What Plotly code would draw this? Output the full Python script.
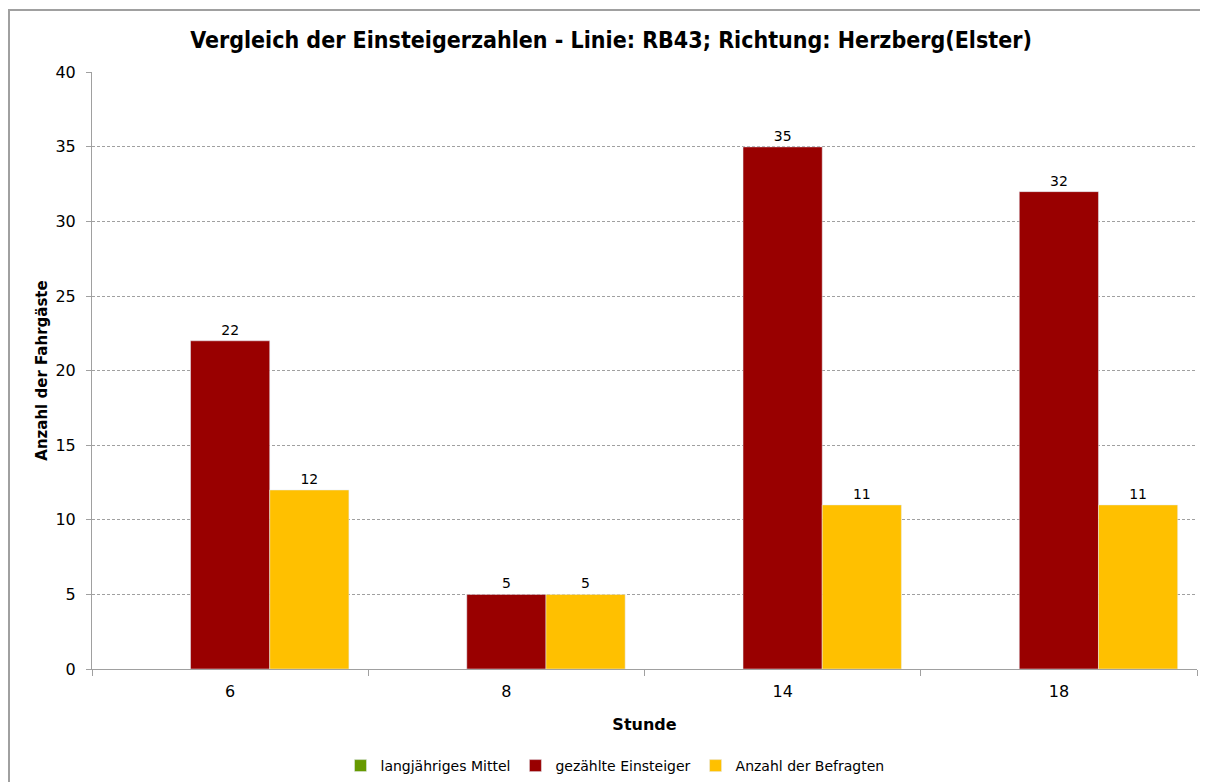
import plotly.graph_objects as go

categories = ["6", "8", "14", "18"]
mittel = [None, None, None, None]
gezaehlt = [22, 5, 35, 32]
befragt = [12, 5, 11, 11]

FONT = "DejaVu Sans"
# page body has an 8px margin, so the figure is placed at (8, 8)
W, H = 1200, 774
L, R, T, B = 84, 11, 64, 113
PW, PH = W - L - R, H - T - B

fig = go.Figure()
fig.add_trace(go.Bar(name="langjähriges Mittel", x=categories, y=mittel,
                     marker_color="#669900"))
fig.add_trace(go.Bar(name="gezählte Einsteiger", x=categories, y=gezaehlt,
                     marker_color="#990000", text=gezaehlt, textposition="outside",
                     textfont=dict(size=14, color="#000"), cliponaxis=False,
                     constraintext="none"))
fig.add_trace(go.Bar(name="Anzahl der Befragten", x=categories, y=befragt,
                     marker_color="#FFC000", text=befragt, textposition="outside",
                     textfont=dict(size=14, color="#000"), cliponaxis=False,
                     constraintext="none"))

fig.update_layout(
    width=W, height=H,
    barmode="group", bargap=0.14, bargroupgap=0,
    plot_bgcolor="white", paper_bgcolor="white",
    font=dict(family=FONT, size=13, color="#000"),
    margin=dict(l=L, r=R, t=T, b=B, autoexpand=False),
    title=dict(text="<b>Vergleich der Einsteigerzahlen - Linie: RB43; Richtung: Herzberg(Elster)</b>",
               x=603 / W, xanchor="center", xref="container", y=1 - 32 / H, yanchor="middle",
               font=dict(family="DejaVu Sans Condensed, " + FONT, size=23)),
    legend=dict(orientation="h", x=(607 - L) / PW, xanchor="center",
                y=-(758 - (T + PH)) / PH, yanchor="middle",
                font=dict(size=14), itemwidth=30, traceorder="normal"),
    xaxis=dict(type="category", tickson="boundaries", ticks="outside", ticklen=6,
               tickcolor="#A0A0A0", showline=True, linecolor="#A0A0A0", linewidth=1,
               showgrid=False, automargin=False, ticklabelstandoff=8,
               title=dict(text="<b>Stunde</b>", font=dict(size=16), standoff=18),
               tickfont=dict(size=16)),
    yaxis=dict(range=[0, 40.02], tick0=0, dtick=5, ticks="outside", ticklen=5, tickcolor="#A0A0A0",
               showline=True, linecolor="#A0A0A0", linewidth=1,
               showgrid=True, gridcolor="#A0A0A0", griddash="3px,2px", gridwidth=1,
               zeroline=False, automargin=False, ticklabelstandoff=7,
               title=dict(text="<b>Anzahl der Fahrgäste</b>", font=dict(size=15), standoff=4),
               tickfont=dict(size=16)),
)

# outer chart border (left and top only visible in reference)
fig.add_shape(type="line", xref="paper", yref="paper",
              x0=(1 - L) / PW, x1=(1 - L) / PW, y0=(T + PH - H) / PH, y1=(T + PH - 2) / PH,
              line=dict(color="#A0A0A0", width=2))
fig.add_shape(type="line", xref="paper", yref="paper",
              x0=(0 - L) / PW, x1=(W - L) / PW, y0=(T + PH - 2) / PH, y1=(T + PH - 2) / PH,
              line=dict(color="#A0A0A0", width=2))

fig.write_html("out.html")
